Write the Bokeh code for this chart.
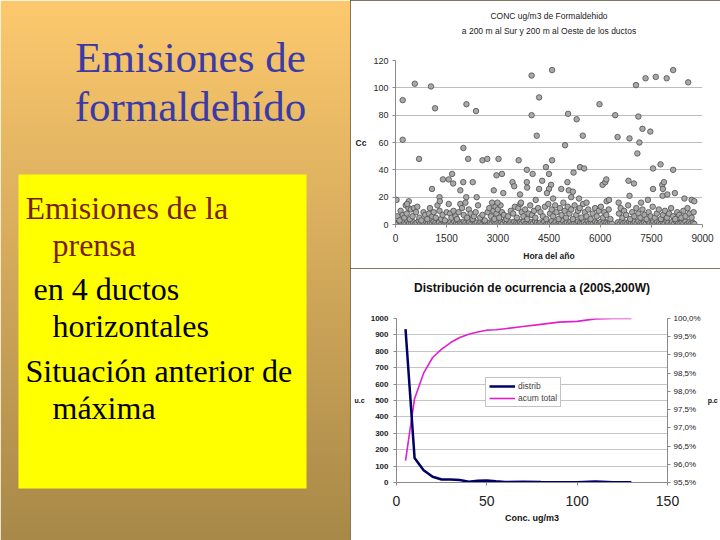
import numpy as np
from bokeh.plotting import figure
from bokeh.layouts import row, column
from bokeh.models import (Range1d, LinearAxis, FixedTicker, Legend, LegendItem, Title,
                          ColumnDataSource, CustomJSTickFormatter)
from bokeh.core.properties import value
from bokeh.embed import file_html
from bokeh.resources import INLINE

# ---------------- slide texts ----------------
slide_title = ["Emisiones de", "formaldehído"]
box_lines = ["Emisiones de la", "prensa", "en 4 ductos", "horizontales",
             "Situación anterior de", "máxima"]
box_colors = ["#7a1e00", "#7a1e00", "#000000", "#000000", "#000000", "#000000"]

# ---------------- scatter chart data (hour of year, concentration) ----------------
upper_pts = [
    (30, 18), (210, 91), (210, 62), (565, 103), (690, 48), (1040, 101), (1160, 85), (1070, 26),
    (1290, 20), (1390, 33), (1560, 33), (1660, 37), (1690, 30), (1990, 56), (2080, 88), (2130, 48),
    (2360, 83), (1985, 31), (1900, 25), (2075, 20), (2265, 31), (2380, 20), (390, 17), (340, 15),
    (1300, 17), (2550, 47), (2690, 48), (3020, 48), (3120, 37), (2960, 36), (2880, 25), (3160, 23),
    (3610, 47), (3430, 31), (3480, 28), (3650, 22), (3850, 40), (3850, 31), (3860, 27), (3990, 109),
    (3990, 80), (4140, 65), (4210, 93), (4020, 37), (4110, 18), (4210, 26), (4300, 32), (4410, 42),
    (4590, 113), (4590, 47), (4500, 37), (4560, 29), (4500, 26), (4440, 23), (4970, 58), (5060, 81),
    (5310, 77), (5040, 31), (4860, 26), (5080, 25), (5200, 24), (5220, 38), (5490, 65), (5410, 42),
    (5530, 41), (5380, 19), (5980, 88), (6070, 29), (6150, 31), (6180, 33), (6190, 17), (6440, 80),
    (6510, 64), (6860, 63), (6830, 32), (6990, 30), (6860, 21), (7050, 102), (7120, 79), (7150, 60),
    (7090, 52), (7240, 70), (7330, 107), (7470, 68), (7550, 41), (7630, 108), (7550, 26), (7770, 44),
    (7820, 29), (7870, 31), (7840, 26), (7830, 21), (7950, 107), (8140, 113), (8140, 40), (8190, 23),
    (7970, 22), (8580, 104), (8470, 19), (8680, 18), (8760, 17), (7400, 18), (6540, 16), (6260, 18),
    (5600, 16), (3680, 16), (2990, 16), (4620, 19), (5150, 20), (7200, 16),
]

mid_pts = [
    (60, 6), (120, 3), (150, 10), (210, 7), (260, 5), (300, 14), (330, 8), (380, 12), (420, 4),
    (450, 11), (500, 6), (540, 12), (600, 9), (640, 13), (700, 5), (760, 3), (820, 9), (870, 7),
    (930, 4), (980, 8), (1010, 12), (1080, 6), (1120, 9), (1180, 5), (1230, 14), (1290, 10),
    (1340, 4), (1380, 7), (1450, 3), (1500, 9), (1560, 15), (1600, 8), (1640, 5), (1700, 10),
    (1760, 6), (1800, 4), (1850, 9), (1900, 15), (1950, 12), (2000, 7), (2050, 16), (2100, 5),
    (2150, 11), (2200, 8), (2260, 4), (2300, 6), (2350, 9), (2420, 14), (2480, 5), (2550, 7),
    (2620, 3), (2700, 9), (2750, 12), (2800, 6), (2830, 16), (2870, 10), (2900, 4), (2930, 13),
    (2960, 8), (3000, 11), (3040, 5), (3080, 14), (3120, 9), (3180, 7), (3250, 4), (3300, 6),
    (3380, 10), (3450, 8), (3500, 13), (3560, 5), (3600, 12), (3660, 15), (3700, 9), (3750, 6),
    (3800, 11), (3860, 4), (3900, 8), (3950, 14), (4000, 7), (4060, 10), (4100, 5), (4180, 12),
    (4250, 9), (4320, 6), (4380, 13), (4420, 4), (4480, 15), (4530, 8), (4580, 11), (4620, 6),
    (4680, 14), (4720, 9), (4780, 4), (4820, 12), (4870, 7), (4920, 16), (4960, 10), (5000, 5),
    (5050, 13), (5100, 8), (5150, 11), (5200, 4), (5250, 14), (5300, 7), (5350, 10), (5400, 12),
    (5450, 5), (5500, 15), (5550, 9), (5600, 6), (5650, 11), (5720, 4), (5780, 8), (5850, 12),
    (5900, 6), (5960, 10), (6020, 13), (6080, 5), (6120, 9), (6180, 7), (6250, 11), (6300, 4),
    (6550, 8), (6600, 12), (6650, 5), (6700, 10), (6760, 7), (6820, 14), (6880, 4), (6940, 9),
    (7000, 6), (7060, 12), (7120, 8), (7180, 5), (7240, 11), (7300, 7), (7360, 4), (7420, 9),
    (7480, 6), (7540, 13), (7600, 5), (7660, 8), (7720, 11), (7780, 4), (7840, 7), (7900, 10),
    (7960, 5), (8020, 8), (8080, 12), (8140, 6), (8200, 4), (8260, 9), (8320, 7), (8380, 5),
    (8440, 10), (8500, 6), (8560, 12), (8620, 8), (8680, 5), (8740, 9),
]

low_pts = [
    (10, 1.2), (70, 0.4), (130, 2.1), (180, 0.8), (240, 1.6), (290, 0.3), (350, 2.4), (400, 1.0),
    (460, 0.6), (510, 1.8), (570, 0.2), (620, 1.3), (680, 2.6), (730, 0.7), (790, 1.5), (840, 0.4),
    (900, 2.0), (950, 0.9), (1010, 1.4), (1060, 0.3), (1120, 2.2), (1170, 1.1), (1230, 0.5),
    (1280, 1.7), (1340, 0.2), (1390, 2.5), (1450, 0.8), (1500, 1.3), (1560, 0.4), (1610, 1.9),
    (1670, 0.6), (1720, 2.3), (1780, 1.0), (1830, 0.3), (1890, 1.6), (1940, 0.7), (2000, 2.1),
    (2050, 1.2), (2110, 0.4), (2160, 1.8), (2220, 0.5), (2270, 2.7), (2330, 0.9), (2380, 1.4),
    (2440, 0.2), (2490, 1.7), (2550, 0.6), (2600, 2.2), (2660, 1.1), (2710, 0.3), (2770, 1.5),
    (2820, 0.8), (2880, 2.4), (2930, 0.5), (2990, 1.3), (3040, 0.2), (3100, 1.9), (3150, 0.7),
    (3210, 2.6), (3260, 1.0), (3320, 0.4), (3370, 1.6), (3430, 0.6), (3480, 2.0), (3540, 1.2),
    (3590, 0.3), (3650, 1.8), (3700, 0.9), (3760, 2.3), (3810, 0.5), (3870, 1.4), (3920, 0.2),
    (3980, 1.7), (4030, 0.8), (4090, 2.5), (4140, 1.1), (4200, 0.4), (4250, 1.5), (4310, 0.7),
    (4360, 2.1), (4420, 0.3), (4470, 1.3), (4530, 0.9), (4580, 2.4), (4640, 0.5), (4690, 1.6),
    (4750, 0.2), (4800, 1.9), (4860, 1.0), (4910, 2.7), (4970, 0.6), (5020, 1.4), (5080, 0.3),
    (5130, 2.0), (5190, 0.8), (5240, 1.2), (5300, 0.4), (5350, 2.2), (5410, 1.1), (5460, 0.5),
    (5520, 1.7), (5570, 0.2), (5630, 2.5), (5680, 0.9), (5740, 1.3), (5790, 0.6), (5850, 2.1),
    (5900, 1.0), (5960, 0.3), (6010, 1.8), (6070, 0.7), (6120, 2.3), (6180, 1.2), (6230, 0.4),
    (6290, 1.5), (6340, 0.8), (6520, 1.6), (6570, 0.3), (6630, 2.2), (6680, 0.9), (6740, 1.4),
    (6790, 0.5), (6850, 2.0), (6900, 1.1), (6960, 0.2), (7010, 1.7), (7070, 0.8), (7120, 2.4),
    (7180, 1.0), (7230, 0.4), (7290, 1.5), (7340, 0.7), (7400, 2.6), (7450, 1.2), (7510, 0.3),
    (7560, 1.9), (7620, 0.6), (7670, 2.1), (7730, 1.0), (7780, 0.4), (7840, 1.6), (7890, 0.8),
    (7950, 2.3), (8000, 1.3), (8060, 0.2), (8110, 1.8), (8170, 0.7), (8220, 2.5), (8280, 1.1),
    (8330, 0.5), (8390, 1.4), (8440, 0.9), (8500, 2.2), (8550, 0.3), (8610, 1.7), (8660, 0.6),
    (8720, 1.2), (8760, 0.4),
]

hour_ticks = [0, 1500, 3000, 4500, 6000, 7500, 9000]
conc_ticks = [0, 20, 40, 60, 80, 100, 120]

# ---------------- distribution chart data ----------------
conc_bins = [5, 10, 15, 20, 25, 30, 35, 40, 45, 50, 55, 60, 70, 80, 90, 100, 110, 120, 130]
distrib = [935, 150, 75, 35, 18, 18, 15, 5, 10, 12, 7, 3, 5, 3, 2, 2, 6, 2, 1]
acum_total = [96.1, 97.8, 98.5, 98.93, 99.16, 99.34, 99.48, 99.57, 99.63, 99.68, 99.69,
              99.72, 99.78, 99.84, 99.9, 99.92, 99.99, 100.0, 100.0]
count_ticks = [0, 100, 200, 300, 400, 500, 600, 700, 800, 900, 1000]
pct_ticks = [95.5, 96.0, 96.5, 97.0, 97.5, 98.0, 98.5, 99.0, 99.5, 100.0]
bin_ticks = [0, 50, 100, 150]

SANS = "Liberation Sans"
SERIF = "Liberation Serif"


def no_align(p):
    try:
        p.frame_align = False
    except Exception:
        pass


def panel_edge(p):
    try:
        p.styles = {"outline": "1px solid #5a4a30", "outline-offset": "-1px"}
    except Exception:
        pass


def spacer(p, gap):
    p.add_layout(Title(text=" ", text_font_size="1px", standoff=gap, offset=0), "above")


# ================= left slide panel =================
LW, LH = 350, 540
left = figure(width=LW, height=LH, x_range=Range1d(0, LW), y_range=Range1d(0, LH),
              x_axis_type=None, y_axis_type=None, output_backend="svg",
              toolbar_location=None, min_border=0, outline_line_color=None,
              border_fill_color="#d8ae60")
left.grid.visible = False

t = np.linspace(0.0, 1.0, LH)
c_top = np.array([253, 201, 110], dtype=float)
c_bot = np.array([168, 137, 72], dtype=float)
cols = c_bot[None, :] + (c_top - c_bot)[None, :] * t[:, None]
img = np.empty((LH, 1), dtype=np.uint32)
view = img.view(dtype=np.uint8).reshape((LH, 1, 4))
view[:, 0, 0] = cols[:, 0]
view[:, 0, 1] = cols[:, 1]
view[:, 0, 2] = cols[:, 2]
view[:, 0, 3] = 255
left.image_rgba(image=[img], x=0, y=0, dw=LW, dh=LH)

left.quad(left=18, right=306, bottom=52, top=366, fill_color="#ffff00", line_color=None)

left.text(x=[190, 190], y=[483, 434], text=slide_title, text_font=value(SERIF),
          text_font_size="43px", text_color="#3b3ba8", text_align="center",
          text_baseline="alphabetic")

box_src = ColumnDataSource(dict(
    x=[25, 52, 33, 52, 25, 52],
    y=[333, 296, 252, 215, 170, 133],
    text=box_lines, color=box_colors))
left.text(x="x", y="y", text="text", text_color="color", source=box_src,
          text_font=value(SERIF), text_font_size="32px", text_baseline="alphabetic")

# ================= top right: scatter =================
p1 = figure(width=370, height=268, x_range=Range1d(0, 9000), y_range=Range1d(0, 120),
            output_backend="svg", toolbar_location=None,
            min_border_left=45, min_border_right=18, min_border_top=60, min_border_bottom=44,
            border_fill_color="white", background_fill_color="white", outline_line_color=None)
no_align(p1)
panel_edge(p1)
p1.xgrid.visible = False
p1.ygrid.grid_line_color = "#bdbdbd"
p1.ygrid.ticker = FixedTicker(ticks=conc_ticks)
p1.xaxis.ticker = FixedTicker(ticks=hour_ticks)
p1.yaxis.ticker = FixedTicker(ticks=conc_ticks)
for ax in (p1.xaxis[0], p1.yaxis[0]):
    ax.axis_line_color = "#8a8a8a"
    ax.major_tick_line_color = "#8a8a8a"
    ax.major_tick_in = 0
    ax.major_tick_out = 3
    ax.minor_tick_line_color = None
    ax.major_label_text_font = SANS
    ax.major_label_text_color = "#2a2a2a"
    ax.axis_label_text_font = SANS
    ax.axis_label_text_font_size = "8.5px"
    ax.axis_label_text_font_style = "bold"
    ax.axis_label_text_color = "#222222"
p1.xaxis.major_label_text_font_size = "10px"
p1.yaxis.major_label_text_font_size = "9px"
p1.yaxis.major_label_standoff = 4
p1.xaxis.major_label_standoff = 6
p1.xaxis.axis_label = "Hora del año"
p1.xaxis.axis_label_standoff = 6
p1.yaxis.axis_label = "Cc"
p1.yaxis.axis_label_orientation = "horizontal"
p1.yaxis.axis_label_standoff = 4

for pts in (low_pts, mid_pts, upper_pts):
    xs = [a for a, b in pts]
    ys = [b for a, b in pts]
    p1.scatter(xs, ys, size=5.5, fill_color="#a9a9a9", line_color="#4d4d4d", line_width=0.8)

spacer(p1, 21)
p1.add_layout(Title(text="a 200 m al Sur y 200 m al Oeste de los ductos", align="center",
                    text_font=SANS, text_font_size="8.5px", text_font_style="normal",
                    text_color="#222222", standoff=2, offset=0), "above")
p1.add_layout(Title(text="CONC ug/m3 de Formaldehido", align="center",
                    text_font=SANS, text_font_size="8.5px", text_font_style="normal",
                    text_color="#222222", standoff=3, offset=0), "above")

# ================= bottom right: distribution =================
p2 = figure(width=370, height=272, x_range=Range1d(0, 150), y_range=Range1d(0, 1000),
            output_backend="svg", toolbar_location=None,
            min_border_left=46, min_border_right=53, min_border_top=50, min_border_bottom=58,
            border_fill_color="white", background_fill_color="white", outline_line_color=None)
no_align(p2)
panel_edge(p2)
p2.extra_y_ranges = {"pct": Range1d(95.5, 100.0)}
right_ax = LinearAxis(y_range_name="pct", ticker=FixedTicker(ticks=pct_ticks),
                      formatter=CustomJSTickFormatter(
                          code="return tick.toFixed(1).replace('.', ',') + '%';"))
p2.add_layout(right_ax, "right")
p2.xgrid.visible = False
p2.ygrid.grid_line_color = "#c4c4c4"
p2.ygrid.ticker = FixedTicker(ticks=count_ticks)
p2.xaxis.ticker = FixedTicker(ticks=bin_ticks)
p2.yaxis[0].ticker = FixedTicker(ticks=count_ticks)
for ax in (p2.xaxis[0], p2.yaxis[0], right_ax):
    ax.axis_line_color = "#8a8a8a"
    ax.major_tick_line_color = "#8a8a8a"
    ax.major_tick_in = 0
    ax.major_tick_out = 3
    ax.minor_tick_line_color = None
    ax.major_label_text_font = SANS
    ax.major_label_text_color = "#222222"
    ax.axis_label_text_font = SANS
    ax.axis_label_text_font_style = "bold"
    ax.axis_label_text_color = "#111111"
p2.xaxis.major_label_text_font_size = "14px"
p2.xaxis.major_label_standoff = 10
p2.xaxis.axis_label = "Conc. ug/m3"
p2.xaxis.axis_label_text_font_size = "9px"
p2.xaxis.axis_label_standoff = 4
p2.yaxis[0].major_label_text_font_size = "8px"
p2.yaxis[0].major_label_text_font_style = "bold"
p2.yaxis[0].axis_label = "u.c"
p2.yaxis[0].axis_label_orientation = "horizontal"
p2.yaxis[0].axis_label_text_font_size = "7px"
p2.yaxis[0].axis_label_standoff = 3
right_ax.major_label_text_font_size = "8px"
right_ax.major_label_standoff = 3
right_ax.axis_label = "p.c"
right_ax.axis_label_orientation = "horizontal"
right_ax.axis_label_text_font_size = "7px"
right_ax.axis_label_standoff = 4

r_acum = p2.line(conc_bins, acum_total, y_range_name="pct", line_color="#e020d0", line_width=1.6)
r_dist = p2.line(conc_bins, distrib, line_color="#000066", line_width=2.5)

legend = Legend(items=[LegendItem(label="distrib", renderers=[r_dist]),
                       LegendItem(label="acum total", renderers=[r_acum])],
                location=(89, 75), border_line_color="#888888", background_fill_color="white",
                padding=3, spacing=2, margin=0, glyph_width=26, glyph_height=10,
                label_standoff=3, label_text_font=SANS, label_text_font_size="8.5px",
                label_height=10)
p2.add_layout(legend)

spacer(p2, 20)
p2.add_layout(Title(text="Distribución de ocurrencia a (200S,200W)", align="center",
                    text_font=SANS, text_font_size="12px", text_font_style="bold",
                    text_color="#111111", standoff=2, offset=0), "above")

layout = row(left, column(p1, p2))
open("out.html", "w").write(file_html(layout, INLINE))
